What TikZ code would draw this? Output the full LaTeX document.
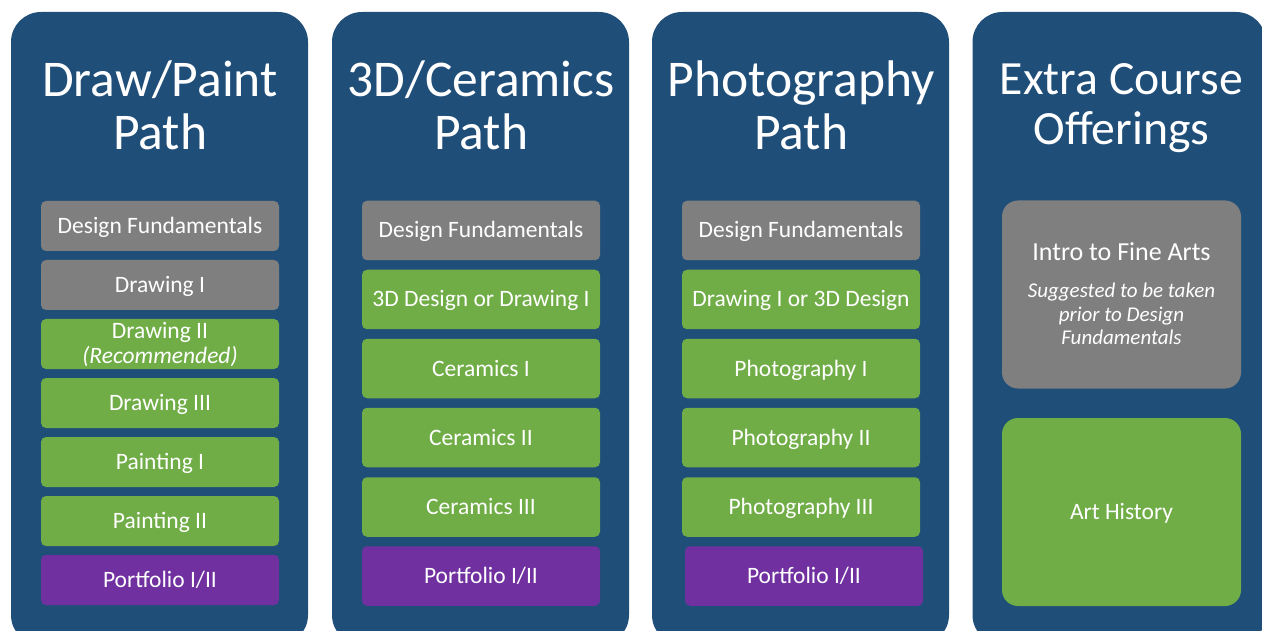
\documentclass[tikz,border=0pt]{standalone}
\usepackage{fontspec}
\setmainfont{Carlito}
\definecolor{panelblue}{HTML}{1F4E79}
\definecolor{boxgray}{HTML}{7F7F7F}
\definecolor{boxgreen}{HTML}{70AD47}
\definecolor{boxpurple}{HTML}{7030A0}
\begin{document}
\begin{tikzpicture}[x=1pt,y=-1pt,
  panel/.style={fill=panelblue, rounded corners=30pt},
  title/.style={text=white, anchor=base, inner sep=0pt, font=\fontsize{51.5}{52}\selectfont},
  titlesm/.style={title, font=\fontsize{47.7}{48}\selectfont},
  box/.style={rectangle, rounded corners=5pt, minimum width=238pt, text=white, inner sep=0pt,
    font=\fontsize{23.5}{25}\selectfont, text height=15pt, text depth=0pt},
  box50/.style={box, minimum height=50pt},
  box59/.style={box, minimum height=59.5pt},
  bigbox/.style={box, rounded corners=16pt, minimum width=239pt, minimum height=188pt},
  gray/.style={fill=boxgray},
  green/.style={fill=boxgreen},
  purple/.style={fill=boxpurple},
  txt/.style={text=white, anchor=base, inner sep=0pt, font=\fontsize{23.5}{25}\selectfont},
  note/.style={text=white, anchor=base, inner sep=0pt, font=\fontsize{21}{23}\selectfont\itshape}
]
\useasboundingbox (0,0) rectangle (1262,631);
\clip (0,0) rectangle (1262,631);

% panels
\fill[panel] (11,12) rectangle (308,645);
\fill[panel] (332,12) rectangle (629,645);
\fill[panel] (652,12) rectangle (949,645);
\fill[panel] (972.5,12) rectangle (1266,645);

% ---- Panel 1: Draw/Paint Path
\node[title] (t1a) at (160,97) {Draw/Paint};
\node[title] (t1b) at (160,150) {Path};
\node[box50, gray]   (a1) at (160,226) {Design Fundamentals};
\node[box50, gray]   (a2) at (160,285) {Drawing I};
\node[box50, green]  (a3) at (160,344) {};
\node[txt] (a3t1) at (160,338) {Drawing II};
\node[txt] (a3t2) at (160,363) {\itshape (Recommended)};
\node[box50, green]  (a4) at (160,403) {Drawing III};
\node[box50, green]  (a5) at (160,462) {Painting I};
\node[box50, green]  (a6) at (160,521) {Painting II};
\node[box50, purple] (a7) at (160,580) {Portfolio I/II};

% ---- Panel 2: 3D/Ceramics Path
\node[title] (t2a) at (481,97) {3D/Ceramics};
\node[title] (t2b) at (481,150) {Path};
\node[box59, gray]   (b1) at (481,230.5) {Design Fundamentals};
\node[box59, green]  (b2) at (481,299.5) {3D Design or Drawing I};
\node[box59, green]  (b3) at (481,368.5) {Ceramics I};
\node[box59, green]  (b4) at (481,437.5) {Ceramics II};
\node[box59, green]  (b5) at (481,507) {Ceramics III};
\node[box59, purple] (b6) at (481,576) {Portfolio I/II};

% ---- Panel 3: Photography Path
\node[title] (t3a) at (801,97) {Photography};
\node[title] (t3b) at (801,150) {Path};
\node[box59, gray]   (c1) at (801,230.5) {Design Fundamentals};
\node[box59, green]  (c2) at (801,299.5) {Drawing I or 3D Design};
\node[box59, green]  (c3) at (801,368.5) {Photography I};
\node[box59, green]  (c4) at (801,437.5) {Photography II};
\node[box59, green]  (c5) at (801,507) {Photography III};
\node[box59, purple] (c6) at (804,576) {Portfolio I/II};

% ---- Panel 4: Extra Course Offerings
\node[titlesm] (t4a) at (1121.5,95) {Extra Course};
\node[titlesm] (t4b) at (1121.5,145) {Offerings};
\node[bigbox, gray]  (d1) at (1121.5,294.5) {};
\node[txt, font=\fontsize{26}{28}\selectfont] (d1t) at (1121.5,261) {Intro to Fine Arts};
\node[note] (d1n1) at (1121.5,298) {Suggested to be taken};
\node[note] (d1n2) at (1121.5,321) {prior to Design};
\node[note] (d1n3) at (1121.5,344.5) {Fundamentals};
\node[bigbox, green] (d2) at (1121.5,512) {Art History};
\end{tikzpicture}
\end{document}
